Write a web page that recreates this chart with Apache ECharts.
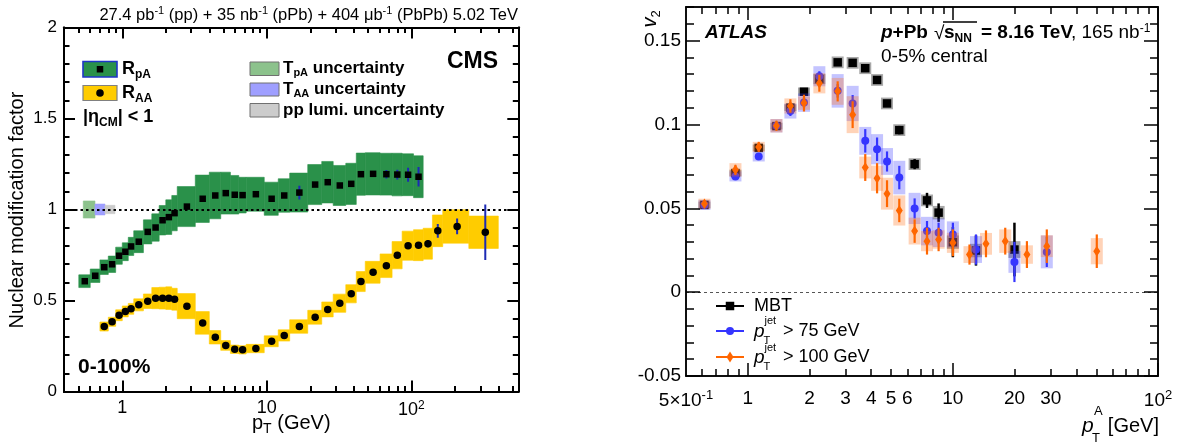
<!DOCTYPE html>
<html>
<head>
<meta charset="utf-8">
<script src="https://cdn.jsdelivr.net/npm/echarts@6.0.0/dist/echarts.min.js"></script>
<style>
html,body{margin:0;padding:0;background:#ffffff;}
#chart{width:1181px;height:446px;}
</style>
</head>
<body>
<div id="chart"></div>
<script>
// ================= LEFT PANEL (CMS) DATA =================
const cmsBinEdges = [0.5,0.6,0.7,0.8,0.9,1.0,1.1,1.2,1.4,1.6,1.8,2.0,2.2,2.4,3.2,4.0,4.8,5.6,6.4,7.2,9.6,12.0,14.4,19.2,24.0,28.8,35.2,41.6,48.0,60.8,73.6,86.4,103.6,120.8,140.0,165.0,250.0,400.0];

const rpaPt     = [0.55,0.65,0.75,0.85,0.95,1.05,1.15,1.3,1.5,1.7,1.9,2.1,2.3,2.8,3.6,4.4,5.2,6.0,6.8,8.4,10.8,13.2,16.8,21.6,26.4,32.0,38.4,44.8,54.4,67.2,80.0,95.0,112.2];
const rpaValues = [0.606,0.636,0.683,0.699,0.746,0.768,0.797,0.823,0.877,0.901,0.941,0.958,0.980,1.016,1.059,1.077,1.090,1.081,1.079,1.084,1.059,1.077,1.093,1.137,1.150,1.132,1.141,1.194,1.196,1.194,1.192,1.191,1.180];
const rpaSyst   = [0.035,0.037,0.040,0.045,0.047,0.049,0.050,0.060,0.066,0.075,0.081,0.095,0.097,0.110,0.130,0.128,0.115,0.106,0.098,0.093,0.091,0.092,0.107,0.110,0.114,0.110,0.113,0.116,0.116,0.115,0.117,0.115,0.115];
const rpaStat   = [0.004,0.004,0.004,0.004,0.004,0.004,0.004,0.004,0.004,0.004,0.004,0.004,0.004,0.005,0.005,0.005,0.006,0.006,0.006,0.006,0.008,0.010,0.038,0.010,0.012,0.012,0.014,0.015,0.016,0.023,0.027,0.039,0.053];

const raaPt     = [0.75,0.85,0.95,1.05,1.15,1.3,1.5,1.7,1.9,2.1,2.3,2.8,3.6,4.4,5.2,6.0,6.8,8.4,10.8,13.2,16.8,21.6,26.4,32.0,38.4,44.8,54.4,67.2,80.0,95.0,112.2,130.4,152.5,207.5,325.0];
const raaValues = [0.357,0.383,0.419,0.440,0.454,0.476,0.496,0.513,0.513,0.513,0.507,0.469,0.377,0.298,0.253,0.232,0.229,0.236,0.276,0.308,0.357,0.408,0.451,0.485,0.537,0.604,0.655,0.691,0.749,0.801,0.804,0.812,0.883,0.907,0.875];
const raaSyst   = [0.025,0.025,0.030,0.030,0.030,0.033,0.040,0.058,0.060,0.062,0.060,0.069,0.062,0.037,0.027,0.023,0.023,0.023,0.030,0.031,0.037,0.038,0.041,0.050,0.050,0.055,0.060,0.065,0.075,0.080,0.085,0.085,0.087,0.092,0.089];
const raaStat   = [0.003,0.003,0.003,0.003,0.003,0.003,0.003,0.003,0.003,0.003,0.003,0.003,0.003,0.003,0.003,0.003,0.003,0.003,0.004,0.004,0.004,0.005,0.005,0.006,0.006,0.007,0.008,0.009,0.010,0.010,0.012,0.020,0.038,0.043,0.152];

// normalisation uncertainties drawn at unity: T_pA, T_AA, pp lumi
const normUncNames  = ['T_pA', 'T_AA', 'pp lumi'];
const normUncValues = [0.047, 0.030, 0.023];

// tick values / labels (left)
const cmsXMajor      = [1, 10, 100];
const cmsXMinor      = [0.5,0.6,0.7,0.8,0.9,2,3,4,5,6,7,8,9,20,30,40,50,60,70,80,90,200,300,400,500];
const cmsXLabelVals  = [1, 10, 100];
const cmsXLabels     = ['1', '10', '10^2'];
const cmsYMajor      = [0, 0.5, 1, 1.5, 2];
const cmsYMinor      = [0.1,0.2,0.3,0.4,0.6,0.7,0.8,0.9,1.1,1.2,1.3,1.4,1.6,1.7,1.8,1.9];
const cmsYLabels     = ['0', '0.5', '1', '1.5', '2'];

// ================= RIGHT PANEL (ATLAS) DATA =================
const mbtPt   = [0.615,0.871,1.131,1.38,1.614,1.88,2.234,2.744,3.246,3.74,4.27,4.775,5.48,6.51,7.48,8.52,10.0,12.96,19.96];
const mbtV2   = [0.052,0.071,0.086,0.099,0.110,0.1195,0.127,0.137,0.1367,0.1335,0.1265,0.1125,0.0966,0.0763,0.0547,0.0474,0.0298,0.0248,0.0254];
const mbtStat = [0.001,0.001,0.001,0.001,0.001,0.0012,0.0015,0.0015,0.0015,0.0015,0.0017,0.002,0.0025,0.003,0.0045,0.0055,0.009,0.009,0.016];
const mbtSyst = [0.002,0.002,0.002,0.002,0.002,0.0025,0.003,0.0035,0.0035,0.0035,0.0035,0.0035,0.0035,0.0035,0.0035,0.004,0.004,0.004,0.005];

const j75Pt   = [0.615,0.871,1.131,1.38,1.614,1.88,2.234,2.744,3.246,3.74,4.27,4.775,5.48,6.51,7.48,8.52,10.0,12.96,19.96,28.7];
const j75V2   = [0.052,0.069,0.0809,0.0992,0.108,0.113,0.1287,0.120,0.1125,0.0902,0.0852,0.0779,0.0683,0.0499,0.0364,0.0354,0.0344,0.0254,0.018,0.024];
const j75Stat = [0.0015,0.002,0.002,0.002,0.003,0.003,0.003,0.004,0.005,0.007,0.007,0.006,0.007,0.006,0.006,0.006,0.007,0.009,0.012,0.009];
const j75Syst = [0.003,0.003,0.003,0.004,0.0045,0.0055,0.006,0.010,0.0105,0.0083,0.009,0.008,0.010,0.0093,0.0085,0.0085,0.0078,0.008,0.0065,0.0098];

const j100Pt   = [0.615,0.871,1.131,1.38,1.614,1.88,2.234,2.744,3.246,3.74,4.27,4.775,5.48,6.51,7.48,8.52,10.0,12.05,14.5,18.0,22.96,28.7,50.3];
const j100V2   = [0.0527,0.0729,0.0866,0.0992,0.111,0.1127,0.1245,0.1197,0.1058,0.0743,0.0679,0.0587,0.0487,0.0364,0.0304,0.0314,0.0294,0.0224,0.0288,0.0304,0.0224,0.0274,0.0244];
const j100Stat = [0.002,0.003,0.003,0.003,0.004,0.005,0.005,0.006,0.008,0.008,0.009,0.008,0.007,0.007,0.008,0.007,0.008,0.006,0.008,0.008,0.008,0.010,0.010];
const j100Syst = [0.003,0.004,0.003,0.004,0.0045,0.004,0.006,0.008,0.011,0.0065,0.0075,0.0095,0.009,0.008,0.006,0.0055,0.006,0.005,0.0065,0.007,0.0055,0.0065,0.0078];

// tick values / labels (right)
const atlasXMajor     = [1, 10, 100];
const atlasXMinor     = [0.6,0.7,0.8,0.9,2,3,4,5,6,7,8,9,20,30,40,50,60,70,80,90];
const atlasXLabelVals = [0.5, 1, 2, 3, 4, 5, 6, 10, 20, 30, 100];
const atlasXLabels    = ['5×10^-1','1','2','3','4','5','6','10','20','30','10^2'];
const atlasYMajor     = [-0.05, 0, 0.05, 0.1, 0.15];
const atlasYMinor     = [-0.04,-0.03,-0.02,-0.01,0.01,0.02,0.03,0.04,0.06,0.07,0.08,0.09,0.11,0.12,0.13,0.14,0.16,0.17];
const atlasYLabels    = ['-0.05','0','0.05','0.1','0.15'];

// ================= RENDERING =================
const FONT = '"Liberation Sans", Arial, Helvetica, sans-serif';
const BLACK = '#000000';
const GREEN = '#2a914a', YELLOW = '#ffcc00';
const BLUE = '#3535ff', ORANGE = '#ff6600';

function binOf(pt) {
  for (let j = 0; j < cmsBinEdges.length - 1; j++) {
    if (pt > cmsBinEdges[j] && pt < cmsBinEdges[j + 1]) return [cmsBinEdges[j], cmsBinEdges[j + 1]];
  }
  return [pt, pt];
}

function nearestLabel(values, labels, isLog) {
  return function (v) {
    let best = 0, bd = Infinity;
    for (let i = 0; i < values.length; i++) {
      const d = isLog ? Math.abs(Math.log(values[i] / v)) : Math.abs(values[i] - v);
      if (d < bd) { bd = d; best = i; }
    }
    const s = labels[best];
    const k = s.indexOf('^');
    return k < 0 ? '{n|' + s + '}' : '{n|' + s.slice(0, k) + '}{s|' + s.slice(k + 1) + '}';
  };
}
function labelRich(size) {
  return {
    n: {fontFamily: FONT, fontSize: size, color: BLACK},
    s: {fontFamily: FONT, fontSize: Math.round(size * 0.68), color: BLACK, padding: [0, 0, Math.round(size * 0.55), 0]}
  };
}
function axis(o) {
  const a = {
    type: o.type, gridIndex: o.grid, position: o.position, min: o.min, max: o.max,
    axisLine: {show: true, onZero: false, lineStyle: {color: BLACK, width: o.lw}},
    axisTick: {show: true, inside: true, length: o.len, customValues: o.ticks, lineStyle: {color: BLACK, width: o.lw}},
    axisLabel: {show: false},
    splitLine: {show: false}, minorTick: {show: false}, minorSplitLine: {show: false},
    axisPointer: {show: false}, silent: true, z: 10
  };
  if (o.type === 'log') a.logBase = 10;
  if (o.labels) {
    a.axisLabel = {
      show: true, customValues: o.labels.values,
      formatter: nearestLabel(o.labels.values, o.labels.text, o.type === 'log'),
      margin: o.labels.margin, rich: labelRich(o.labels.size),
      color: BLACK, fontFamily: FONT, fontSize: o.labels.size
    };
  }
  return a;
}

const L = {xmin: 0.395, xmax: 550, ymin: 0, ymax: 2};
const R = {xmin: 0.5, xmax: 100, ymin: -0.05, ymax: 0.17};

const xAxes = [
  axis({type:'log', grid:0, position:'bottom', min:L.xmin, max:L.xmax, lw:2, len:11, ticks:cmsXMajor, labels:{values:cmsXLabelVals, text:cmsXLabels, margin:8, size:18}}),
  axis({type:'log', grid:0, position:'bottom', min:L.xmin, max:L.xmax, lw:2, len:5.5, ticks:cmsXMinor}),
  axis({type:'log', grid:0, position:'top', min:L.xmin, max:L.xmax, lw:2, len:11, ticks:cmsXMajor}),
  axis({type:'log', grid:0, position:'top', min:L.xmin, max:L.xmax, lw:2, len:5.5, ticks:cmsXMinor}),
  axis({type:'log', grid:1, position:'bottom', min:R.xmin, max:R.xmax, lw:1.5, len:13, ticks:atlasXMajor, labels:{values:atlasXLabelVals, text:atlasXLabels, margin:13, size:19}}),
  axis({type:'log', grid:1, position:'bottom', min:R.xmin, max:R.xmax, lw:1.5, len:7, ticks:atlasXMinor}),
  axis({type:'log', grid:1, position:'top', min:R.xmin, max:R.xmax, lw:1.5, len:13, ticks:atlasXMajor}),
  axis({type:'log', grid:1, position:'top', min:R.xmin, max:R.xmax, lw:1.5, len:7, ticks:atlasXMinor})
];
const yAxes = [
  axis({type:'value', grid:0, position:'left', min:L.ymin, max:L.ymax, lw:2, len:11, ticks:cmsYMajor, labels:{values:cmsYMajor, text:cmsYLabels, margin:7, size:17}}),
  axis({type:'value', grid:0, position:'left', min:L.ymin, max:L.ymax, lw:2, len:5.5, ticks:cmsYMinor}),
  axis({type:'value', grid:0, position:'right', min:L.ymin, max:L.ymax, lw:2, len:11, ticks:cmsYMajor}),
  axis({type:'value', grid:0, position:'right', min:L.ymin, max:L.ymax, lw:2, len:5.5, ticks:cmsYMinor}),
  axis({type:'value', grid:1, position:'left', min:R.ymin, max:R.ymax, lw:1.5, len:14, ticks:atlasYMajor, labels:{values:atlasYMajor, text:atlasYLabels, margin:5, size:19}}),
  axis({type:'value', grid:1, position:'left', min:R.ymin, max:R.ymax, lw:1.5, len:8, ticks:atlasYMinor}),
  axis({type:'value', grid:1, position:'right', min:R.ymin, max:R.ymax, lw:1.5, len:14, ticks:atlasYMajor}),
  axis({type:'value', grid:1, position:'right', min:R.ymin, max:R.ymax, lw:1.5, len:8, ticks:atlasYMinor})
];

// --- render helpers ---
function binBoxSeries(data, fill, stroke, z) {
  return {
    type: 'custom', xAxisIndex: 0, yAxisIndex: 0, clip: true, silent: true, z: z,
    encode: {x: [0, 1], y: 2},
    data: data,
    renderItem: function (p, api) {
      const a = api.coord([api.value(0), api.value(2) + api.value(3)]);
      const b = api.coord([api.value(1), api.value(2) - api.value(3)]);
      return {type: 'rect', shape: {x: a[0], y: a[1], width: b[0] - a[0], height: b[1] - a[1]},
              style: {fill: fill, stroke: stroke || fill, lineWidth: stroke ? 1 : 0.6}};
    }
  };
}
function pxBoxSeries(xi, pts, vals, errs, fill, halfPx, z) {
  return {
    type: 'custom', xAxisIndex: xi, yAxisIndex: xi, clip: true, silent: true, z: z,
    encode: {x: 0, y: 1},
    data: pts.map((x, i) => [x, vals[i], errs[i]]),
    renderItem: function (p, api) {
      const x = api.value(0), y = api.value(1), e = api.value(2);
      const c = api.coord([x, y]), t = api.coord([x, y + e]), b = api.coord([x, y - e]);
      return {type: 'rect', shape: {x: c[0] - halfPx, y: t[1], width: 2 * halfPx, height: b[1] - t[1]}, style: {fill: fill}};
    }
  };
}
function errBarSeries(xi, pts, vals, errs, color, w, z) {
  return {
    type: 'custom', xAxisIndex: xi, yAxisIndex: xi, clip: true, silent: true, z: z,
    encode: {x: 0, y: 1},
    data: pts.map((x, i) => [x, vals[i], errs[i]]),
    renderItem: function (p, api) {
      const x = api.value(0), y = api.value(1), e = api.value(2);
      const t = api.coord([x, y + e]), b = api.coord([x, y - e]);
      return {type: 'line', shape: {x1: t[0], y1: t[1], x2: b[0], y2: b[1]}, style: {stroke: color, lineWidth: w}};
    }
  };
}
function markers(xi, pts, vals, symbol, size, color, z) {
  return {
    type: 'scatter', xAxisIndex: xi, yAxisIndex: xi, silent: true, z: z,
    symbol: symbol, symbolSize: size,
    itemStyle: {color: color, borderWidth: 0, opacity: 1},
    data: pts.map((x, i) => [x, vals[i]])
  };
}

// normalisation boxes at unity (pT ranges are drawing positions)
const normBoxRanges = [[0.537, 0.647], [0.647, 0.759], [0.759, 0.89]];
const normBoxColors = ['#8cc28c', '#9f9fff', '#cccccc'];
const normSeries = normUncValues.map((u, i) =>
  binBoxSeries([[normBoxRanges[i][0], normBoxRanges[i][1], 1, u]], normBoxColors[i], null, 2));

const series = [].concat(
  normSeries,
  [
    binBoxSeries(rpaPt.map((x, i) => { const b = binOf(x); return [b[0], b[1], rpaValues[i], rpaSyst[i]]; }), GREEN, null, 2),
    binBoxSeries(raaPt.map((x, i) => { const b = binOf(x); return [b[0], b[1], raaValues[i], raaSyst[i]]; }), YELLOW, null, 2),
    errBarSeries(0, rpaPt, rpaValues, rpaStat, '#1c2bb4', 2, 3),
    errBarSeries(0, raaPt, raaValues, raaStat, '#1c2bb4', 2, 3),
    markers(0, rpaPt, rpaValues, 'rect', 6.5, BLACK, 4),
    Object.assign(markers(0, raaPt, raaValues, 'circle', 7.5, BLACK, 4), {
      markLine: {silent: true, symbol: ['none', 'none'], label: {show: false}, z: 6,
                 lineStyle: {color: BLACK, width: 2, type: [2.5, 3]}, data: [{yAxis: 1}], animation: false}
    }),
    // ATLAS
    pxBoxSeries(4, mbtPt, mbtV2, mbtSyst, 'rgba(110,110,110,0.6)', 6, 2),
    errBarSeries(4, mbtPt, mbtV2, mbtStat, BLACK, 2.5, 3),
    Object.assign(markers(4, mbtPt, mbtV2, 'rect', 8.5, BLACK, 4), {
      markLine: {silent: true, symbol: ['none', 'none'], label: {show: false}, z: 1,
                 lineStyle: {color: '#555', width: 1, type: [3, 3]}, data: [{yAxis: 0}], animation: false}
    }),
    pxBoxSeries(4, j75Pt, j75V2, j75Syst, 'rgba(60,60,255,0.30)', 6, 5),
    errBarSeries(4, j75Pt, j75V2, j75Stat, BLUE, 2.2, 6),
    markers(4, j75Pt, j75V2, 'circle', 8, BLUE, 7),
    pxBoxSeries(4, j100Pt, j100V2, j100Syst, 'rgba(255,110,20,0.30)', 6, 8),
    errBarSeries(4, j100Pt, j100V2, j100Stat, ORANGE, 2.2, 9),
    markers(4, j100Pt, j100V2, 'diamond', [7, 10.5], ORANGE, 10)
  ]
);

// --- text / legend graphics ---
function rs(size, bold, italic, pad) {
  return {fontFamily: FONT, fontSize: size, fontWeight: bold ? 'bold' : 'normal', fontStyle: italic ? 'italic' : 'normal',
          fill: BLACK, padding: pad || [0, 0, 0, 0]};
}
function gText(x, y, text, size, o) {
  o = o || {};
  return {
    type: 'text', x: x, y: y, rotation: o.rotation || 0, silent: true, z: 200,
    style: {text: text, fill: BLACK, fontFamily: FONT, fontSize: size,
            fontWeight: o.bold ? 'bold' : 'normal', fontStyle: o.italic ? 'italic' : 'normal',
            align: o.align || 'left', textAlign: o.align || 'left',
            verticalAlign: 'middle', textVerticalAlign: 'middle', rich: o.rich || {}}
  };
}
function gRect(x, y, w, h, fill, stroke, lw) {
  return {type: 'rect', silent: true, z: 190, shape: {x: x, y: y, width: w, height: h},
          style: {fill: fill, stroke: stroke || null, lineWidth: lw || 0}};
}
function gLine(x1, y1, x2, y2, color, w) {
  return {type: 'line', silent: true, z: 190, shape: {x1: x1, y1: y1, x2: x2, y2: y2}, style: {stroke: color, lineWidth: w}};
}

const supR = (s, b) => rs(s, b, false, [0, 0, Math.round(s * 0.75), 0]);
const subR = (s, b) => rs(s, b, false, [Math.round(s * 0.9), 0, 0, 0]);

const graphics = [
  // ---- CMS panel ----
  gText(518, 15, '27.4 pb{u|-1} (pp) + 35 nb{u|-1} (pPb) + 404 μb{u|-1} (PbPb) 5.02 TeV', 16.5, {align: 'right', rich: {u: supR(11, false)}}),
  gText(498, 62, 'CMS', 23, {bold: true, align: 'right'}),
  gText(78, 367, '0-100%', 21, {bold: true}),
  gText(17, 210, 'Nuclear modification factor', 20, {align: 'center', rotation: Math.PI / 2}),
  gText(252, 423, 'p{d|T} (GeV)', 20, {rich: {d: subR(14, false)}}),
  // legend left column
  gRect(83, 61.5, 34, 15.5, GREEN, '#1f35c8', 1.6),
  gRect(96.75, 66, 6.5, 6.5, BLACK),
  gText(122, 69, 'R{d|pA}', 18, {bold: true, rich: {d: subR(12, true)}}),
  gRect(83, 85.5, 34, 15, YELLOW, '#808080', 1.2),
  {type: 'circle', silent: true, z: 191, shape: {cx: 100, cy: 93, r: 3.8}, style: {fill: BLACK}},
  gText(122, 93, 'R{d|AA}', 18, {bold: true, rich: {d: subR(12, true)}}),
  gText(83, 117, '|η{d|CM}| < 1', 18, {bold: true, rich: {d: subR(12, true)}}),
  // legend right column
  gRect(250, 62, 29, 13.5, '#8cc28c', '#707070', 1),
  gText(283, 68, 'T{d|pA} uncertainty', 17, {bold: true, rich: {d: subR(11, true)}}),
  gRect(250, 83, 29, 13, '#9f9fff', '#707070', 1),
  gText(283, 89, 'T{d|AA} uncertainty', 17, {bold: true, rich: {d: subR(11, true)}}),
  gRect(250, 103.5, 29, 13.5, '#cccccc', '#707070', 1),
  gText(283, 110, 'pp lumi. uncertainty', 17, {bold: true}),

  // ---- ATLAS panel ----
  gText(705, 33, 'ATLAS', 19, {bold: true, italic: true}),
  gText(881, 33, '{i|p}+Pb', 19, {bold: true, rich: {i: rs(19, true, true)}}),
  gText(934, 34, '√', 19, {}),
  gText(944, 33, 's{d|NN}', 19, {bold: true, rich: {d: subR(12, true)}}),
  gLine(943, 22, 977, 22, BLACK, 1.3),
  gText(981, 33, '= 8.16 TeV', 19, {bold: true}),
  gText(1071, 33, ', 165 nb{u|-1}', 19, {rich: {u: supR(12, false)}}),
  gText(881, 57, '0-5% central', 19, {}),
  gText(650, 19, 'v{d|2}', 20, {italic: true, align: 'center', rotation: Math.PI / 2, rich: {d: subR(13, false)}}),
  gText(1082, 426, 'p', 21, {italic: true}),
  gText(1094, 411, 'A', 13, {}),
  gText(1092, 438, 'T', 13, {}),
  gText(1159, 426, '[GeV]', 20, {align: 'right'}),
  // legend
  gLine(716, 306, 744, 306, BLACK, 2),
  gRect(725.75, 301.75, 8.5, 8.5, BLACK),
  gText(754, 306, 'MBT', 18, {}),
  gLine(716, 331, 744, 331, BLUE, 2),
  {type: 'circle', silent: true, z: 191, shape: {cx: 730, cy: 331, r: 4}, style: {fill: BLUE}},
  gText(754, 332, 'p', 19, {italic: true}),
  gText(764.5, 321, 'jet', 11, {}),
  gText(763.5, 340.5, 'T', 11, {}),
  gText(783, 331, '> 75 GeV', 18, {}),
  gLine(716, 357, 744, 357, ORANGE, 2),
  {type: 'polygon', silent: true, z: 191, shape: {points: [[730, 351.5], [733.5, 357], [730, 362.5], [726.5, 357]]}, style: {fill: ORANGE}},
  gText(754, 358, 'p', 19, {italic: true}),
  gText(764.5, 347.5, 'jet', 11, {}),
  gText(763.5, 366.5, 'T', 11, {}),
  gText(783, 357, '> 100 GeV', 18, {})
];

const option = {
  animation: false,
  backgroundColor: '#ffffff',
  textStyle: {fontFamily: FONT},
  grid: [
    {left: 64, top: 27.5, width: 454.3, height: 364, containLabel: false, outerBoundsMode: 'none'},
    {left: 686, top: 7, width: 472, height: 369, containLabel: false, outerBoundsMode: 'none'}
  ],
  xAxis: xAxes,
  yAxis: yAxes,
  series: series,
  graphic: {elements: graphics}
};

const chart = echarts.init(document.getElementById('chart'), null, {renderer: 'canvas', width: 1181, height: 446});
chart.setOption(option);
</script>
</body>
</html>
